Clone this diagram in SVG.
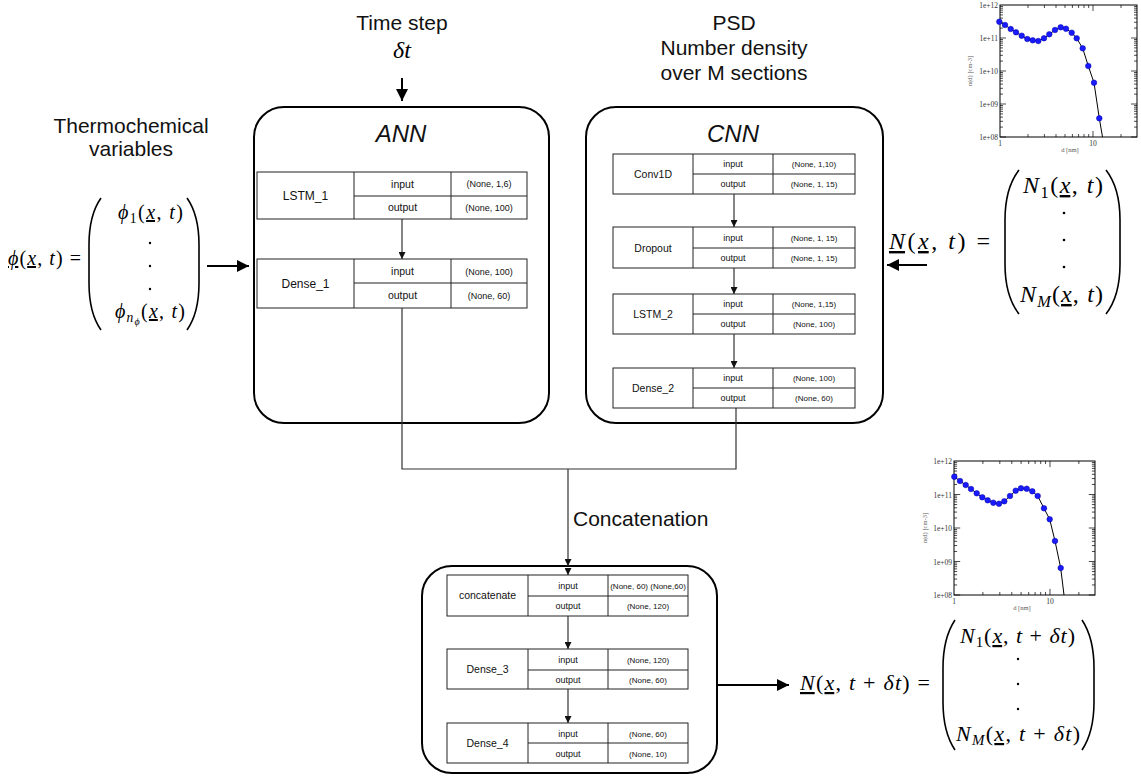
<svg xmlns="http://www.w3.org/2000/svg" xmlns:xlink="http://www.w3.org/1999/xlink" width="1141" height="776" viewBox="0 0 1141 776">
<style>
.bx{fill:none;stroke:#000;stroke-width:2}
.tb{fill:#fff;stroke:#222;stroke-width:1}
.tl{fill:none;stroke:#222;stroke-width:1}
.s{font-family:"Liberation Sans",Arial,sans-serif;fill:#111}
.lbl{font-size:21px;text-anchor:middle}
.ttl{font-size:24px;font-style:italic;text-anchor:middle}
.n1{font-size:12px;text-anchor:middle}
.io1{font-size:10.5px;text-anchor:middle}
.v1{font-size:9px;text-anchor:middle}
.n2{font-size:10.5px;text-anchor:middle}
.io2{font-size:9px;text-anchor:middle}
.v2{font-size:8px;text-anchor:middle}
.m{font-family:"Liberation Serif","DejaVu Serif","Times New Roman",serif;fill:#000}
.m20{font-size:20px}
.m22{font-size:22px}
.m24{font-size:24px}
.i{font-style:italic}
.u{text-decoration:underline}
.sb{font-size:0.68em}
.sb2{font-size:0.5em}
.par{fill:none;stroke:#000;stroke-width:1.6}
.con{fill:none;stroke:#333;stroke-width:1.2}
.thk{fill:none;stroke:#000;stroke-width:2}
.pf{fill:none;stroke:#000;stroke-width:1}
.pt{font-family:"Liberation Serif","Times New Roman",serif;font-size:7.5px;fill:#333}
.ax{font-family:"Liberation Serif","Times New Roman",serif;font-size:6.5px;fill:#555}
.tk{fill:none;stroke:#000;stroke-width:0.7}
.dot{fill:#1a1aff;stroke:#0000a0;stroke-width:0.5}
.cv{fill:none;stroke:#000;stroke-width:1}
</style>
<defs>
<marker id="ah" viewBox="0 0 10 10" refX="10" refY="5" markerWidth="7" markerHeight="7" markerUnits="userSpaceOnUse" orient="auto"><path d="M0 0L10 5L0 10z" fill="#111"/></marker>
<marker id="ahb" viewBox="0 0 10 10" refX="10" refY="5" markerWidth="12" markerHeight="12" markerUnits="userSpaceOnUse" orient="auto"><path d="M0 0L10 5L0 10z" fill="#000"/></marker>
<path id="yt" class="tk" d="M0 0h6M0 -9.9h3M0 -15.7h3M0 -19.9h3M0 -23.1h3M0 -25.7h3M0 -27.9h3M0 -29.8h3M0 -31.5h3"/>
<path id="xt" class="tk" d="M28 0v-3M44.4 0v-3M56 0v-3M65 0v-3M72.4 0v-3M78.6 0v-3M84 0v-3M88.7 0v-3M93 0v-6M121 0v-3"/>
</defs>

<g id="timestep">
<text class="s lbl" x="402" y="30">Time step</text>
<text class="m m24" x="402" y="58" text-anchor="middle"><tspan class="i">δt</tspan></text>
</g>
<g id="psd">
<text class="s lbl" x="734" y="30">PSD</text>
<text class="s lbl" x="734" y="55">Number density</text>
<text class="s lbl" x="734" y="80">over M sections</text>
</g>
<g id="thermo">
<text class="s lbl" x="131" y="133">Thermochemical</text>
<text class="s lbl" x="131" y="156">variables</text>
</g>

<g id="ann">
<rect class="bx" x="254" y="107" width="295" height="316" rx="30"/>
<text class="s ttl" x="401" y="142">ANN</text>
<g id="lstm1">
<rect class="tb" x="257" y="172" width="270" height="47"/>
<path class="tl" d="M354 172V219M451 172V219M354 196H527"/>
<text class="s n1" x="305.5" y="200">LSTM_1</text>
<text class="s io1" x="402.5" y="188">input</text>
<text class="s io1" x="402.5" y="211">output</text>
<text class="s v1" x="489" y="187">(None, 1,6)</text>
<text class="s v1" x="489" y="211">(None, 100)</text>
</g>
<g id="dense1">
<rect class="tb" x="257" y="259" width="270" height="49"/>
<path class="tl" d="M354 259V308M451 259V308M354 283H527"/>
<text class="s n1" x="305.5" y="288">Dense_1</text>
<text class="s io1" x="402.5" y="275">input</text>
<text class="s io1" x="402.5" y="299">output</text>
<text class="s v1" x="489" y="275">(None, 100)</text>
<text class="s v1" x="489" y="299">(None, 60)</text>
</g>
</g>

<g id="cnn">
<rect class="bx" x="586" y="107" width="297" height="316" rx="30"/>
<text class="s ttl" x="733" y="142">CNN</text>
<g id="conv1d">
<rect class="tb" x="613" y="154" width="242" height="40"/>
<path class="tl" d="M693 154V194M773 154V194M693 174H855"/>
<text class="s n2" x="653" y="178">Conv1D</text>
<text class="s io2" x="733" y="167">input</text>
<text class="s io2" x="733" y="187">output</text>
<text class="s v2" x="814" y="167">(None, 1,10)</text>
<text class="s v2" x="814" y="187">(None, 1, 15)</text>
</g>
<g id="dropout">
<rect class="tb" x="613" y="227" width="242" height="41"/>
<path class="tl" d="M693 227V268M773 227V268M693 248H855"/>
<text class="s n2" x="653" y="252">Dropout</text>
<text class="s io2" x="733" y="241">input</text>
<text class="s io2" x="733" y="261">output</text>
<text class="s v2" x="814" y="241">(None, 1, 15)</text>
<text class="s v2" x="814" y="261">(None, 1, 15)</text>
</g>
<g id="lstm2">
<rect class="tb" x="613" y="294" width="242" height="40"/>
<path class="tl" d="M693 294V334M773 294V334M693 314H855"/>
<text class="s n2" x="653" y="318">LSTM_2</text>
<text class="s io2" x="733" y="307">input</text>
<text class="s io2" x="733" y="327">output</text>
<text class="s v2" x="814" y="307">(None, 1,15)</text>
<text class="s v2" x="814" y="327">(None, 100)</text>
</g>
<g id="dense2">
<rect class="tb" x="613" y="368" width="242" height="40"/>
<path class="tl" d="M693 368V408M773 368V408M693 388H855"/>
<text class="s n2" x="653" y="392">Dense_2</text>
<text class="s io2" x="733" y="381">input</text>
<text class="s io2" x="733" y="401">output</text>
<text class="s v2" x="814" y="381">(None, 100)</text>
<text class="s v2" x="814" y="401">(None, 60)</text>
</g>
</g>

<g id="merged">
<rect class="bx" x="422" y="566" width="295" height="207" rx="30"/>
<g id="concat">
<rect class="tb" x="447" y="575" width="241" height="41"/>
<path class="tl" d="M528 575V616M608 575V616M528 596H688"/>
<text class="s n2" x="487.5" y="599">concatenate</text>
<text class="s io2" x="568" y="589">input</text>
<text class="s io2" x="568" y="609">output</text>
<text class="s v2" x="648" y="589">(None, 60) (None,60)</text>
<text class="s v2" x="648" y="609">(None, 120)</text>
</g>
<g id="dense3">
<rect class="tb" x="447" y="649" width="241" height="40"/>
<path class="tl" d="M528 649V689M608 649V689M528 670H688"/>
<text class="s n2" x="487.5" y="673">Dense_3</text>
<text class="s io2" x="568" y="663">input</text>
<text class="s io2" x="568" y="683">output</text>
<text class="s v2" x="648" y="663">(None, 120)</text>
<text class="s v2" x="648" y="683">(None, 60)</text>
</g>
<g id="dense4">
<rect class="tb" x="447" y="723" width="241" height="40"/>
<path class="tl" d="M528 723V763M608 723V763M528 743H688"/>
<text class="s n2" x="487.5" y="747">Dense_4</text>
<text class="s io2" x="568" y="737">input</text>
<text class="s io2" x="568" y="757">output</text>
<text class="s v2" x="648" y="737">(None, 60)</text>
<text class="s v2" x="648" y="757">(None, 10)</text>
</g>
</g>

<g id="connectors">
<path class="con" d="M402 219V259" marker-end="url(#ah)"/>
<path class="con" d="M734 194V227" marker-end="url(#ah)"/>
<path class="con" d="M734 268V294" marker-end="url(#ah)"/>
<path class="con" d="M734 334V368" marker-end="url(#ah)"/>
<path class="con" d="M402 308V469H736V408"/>
<path class="con" d="M568 469V566" marker-end="url(#ah)"/>
<path class="con" d="M568 568V575" marker-end="url(#ah)"/>
<path class="con" d="M568 616V649" marker-end="url(#ah)"/>
<path class="con" d="M568 689V723" marker-end="url(#ah)"/>
<path class="thk" d="M402 78V101" marker-end="url(#ahb)"/>
<path class="thk" d="M207 266H249" marker-end="url(#ahb)"/>
<path class="thk" d="M927 265H887" marker-end="url(#ahb)"/>
<path class="thk" d="M717 685H789" marker-end="url(#ahb)"/>
<text class="s" x="573" y="526" font-size="21">Concatenation</text>
</g>

<g id="phi-eq">
<text class="m m20" x="8" y="265" textLength="73" lengthAdjust="spacing"><tspan class="i u">ϕ</tspan>(<tspan class="i u">x</tspan>, <tspan class="i">t</tspan>) =</text>
<path class="par" d="M101 198Q89 215 89 245V283Q89 313 101 330"/>
<path class="par" d="M187 198Q199 215 199 245V283Q199 313 187 330"/>
<text class="m m20" x="118" y="219" textLength="65" lengthAdjust="spacing"><tspan class="i">ϕ</tspan><tspan class="sb" dy="4">1</tspan><tspan dy="-4">(</tspan><tspan class="i u">x</tspan>, <tspan class="i">t</tspan>)</text>
<circle cx="150" cy="243" r="1.2"/>
<circle cx="150" cy="266" r="1.2"/>
<circle cx="150" cy="289" r="1.2"/>
<text class="m m20" x="115" y="318" textLength="70" lengthAdjust="spacing"><tspan class="i">ϕ</tspan><tspan class="sb i" dy="4">n</tspan><tspan class="sb2 i" dy="3">ϕ</tspan><tspan dy="-7">(</tspan><tspan class="i u">x</tspan>, <tspan class="i">t</tspan>)</text>
</g>

<g id="n-eq">
<text class="m m24" x="889" y="249" textLength="101" lengthAdjust="spacing"><tspan class="i u">N</tspan>(<tspan class="i u">x</tspan>, <tspan class="i">t</tspan>) =</text>
<path class="par" d="M1019 170Q1005 188 1005 220V264Q1005 296 1019 314"/>
<path class="par" d="M1106 170Q1120 188 1120 220V264Q1120 296 1106 314"/>
<text class="m m24" x="1023" y="193" textLength="80" lengthAdjust="spacing"><tspan class="i">N</tspan><tspan class="sb" dy="5">1</tspan><tspan dy="-5">(</tspan><tspan class="i u">x</tspan>, <tspan class="i">t</tspan>)</text>
<circle cx="1064" cy="213" r="1.3"/>
<circle cx="1064" cy="240" r="1.3"/>
<circle cx="1064" cy="267" r="1.3"/>
<text class="m m24" x="1020" y="302" textLength="83" lengthAdjust="spacing"><tspan class="i">N</tspan><tspan class="sb i" dy="5">M</tspan><tspan dy="-5">(</tspan><tspan class="i u">x</tspan>, <tspan class="i">t</tspan>)</text>
</g>

<g id="n-next-eq">
<text class="m m22" x="800" y="690" textLength="130" lengthAdjust="spacing"><tspan class="i u">N</tspan>(<tspan class="i u">x</tspan>, <tspan class="i">t</tspan> + <tspan class="i">δt</tspan>) =</text>
<path class="par" d="M955 620Q943 638 943 668V702Q943 732 955 750"/>
<path class="par" d="M1082 620Q1094 638 1094 668V702Q1094 732 1082 750"/>
<text class="m m22" x="960" y="643" textLength="115" lengthAdjust="spacing"><tspan class="i">N</tspan><tspan class="sb" dy="4">1</tspan><tspan dy="-4">(</tspan><tspan class="i u">x</tspan>, <tspan class="i">t</tspan> + <tspan class="i">δt</tspan>)</text>
<circle cx="1018" cy="659" r="1.2"/>
<circle cx="1018" cy="684" r="1.2"/>
<circle cx="1018" cy="709" r="1.2"/>
<text class="m m22" x="956" y="741" textLength="124" lengthAdjust="spacing"><tspan class="i">N</tspan><tspan class="sb i" dy="4">M</tspan><tspan dy="-4">(</tspan><tspan class="i u">x</tspan>, <tspan class="i">t</tspan> + <tspan class="i">δt</tspan>)</text>
</g>

<g id="plot-top">
<rect class="pf" x="1000" y="5" width="137" height="132" fill="#fff"/>
<use href="#yt" x="1000" y="137"/><use href="#yt" x="1000" y="104"/><use href="#yt" x="1000" y="71"/><use href="#yt" x="1000" y="38"/>
<use href="#yt" transform="translate(1137,137) scale(-1,1)"/><use href="#yt" transform="translate(1137,104) scale(-1,1)"/><use href="#yt" transform="translate(1137,71) scale(-1,1)"/><use href="#yt" transform="translate(1137,38) scale(-1,1)"/>
<use href="#xt" x="1000" y="137"/><use href="#xt" transform="translate(1000,5) scale(1,-1)"/>
<text class="pt" x="998" y="8" text-anchor="end">1e+12</text>
<text class="pt" x="998" y="41" text-anchor="end">1e+11</text>
<text class="pt" x="998" y="74" text-anchor="end">1e+10</text>
<text class="pt" x="998" y="107" text-anchor="end">1e+09</text>
<text class="pt" x="998" y="140" text-anchor="end">1e+08</text>
<text class="pt" x="1000" y="146" text-anchor="middle">1</text>
<text class="pt" x="1093" y="146" text-anchor="middle">10</text>
<text class="ax" x="1070" y="152" text-anchor="middle">d [nm]</text>
<text class="ax" transform="translate(972,71) rotate(-90)" text-anchor="middle">n(d) [cm-3]</text>
<polyline class="cv" points="999.3,21.7 1005,25 1010.7,29 1016,32.3 1021.7,35.7 1027.3,39 1032.7,40.3 1038.3,41 1044,38.3 1049.3,34.3 1055,30 1060.7,27.3 1066,28.7 1071.7,32.7 1076.7,38.3 1082.7,48.3 1088.3,66 1094,82.7 1099.3,118.3 1102.5,137"/>
<g class="dot">
<circle cx="999.3" cy="21.7" r="2.8"/><circle cx="1005" cy="25" r="2.8"/><circle cx="1010.7" cy="29" r="2.8"/><circle cx="1016" cy="32.3" r="2.8"/><circle cx="1021.7" cy="35.7" r="2.8"/><circle cx="1027.3" cy="39" r="2.8"/><circle cx="1032.7" cy="40.3" r="2.8"/><circle cx="1038.3" cy="41" r="2.8"/><circle cx="1044" cy="38.3" r="2.8"/><circle cx="1049.3" cy="34.3" r="2.8"/><circle cx="1055" cy="30" r="2.8"/><circle cx="1060.7" cy="27.3" r="2.8"/><circle cx="1066" cy="28.7" r="2.8"/><circle cx="1071.7" cy="32.7" r="2.8"/><circle cx="1076.7" cy="38.3" r="2.8"/><circle cx="1082.7" cy="48.3" r="2.8"/><circle cx="1088.3" cy="66" r="2.8"/><circle cx="1094" cy="82.7" r="2.8"/><circle cx="1099.3" cy="118.3" r="2.8"/>
</g>
</g>

<g id="plot-bottom">
<rect class="pf" x="954" y="461" width="141" height="134" fill="#fff"/>
<g transform="translate(954,0) scale(1.032,1.015)">
<use href="#yt" x="0" y="586.2"/><use href="#yt" x="0" y="553.2"/><use href="#yt" x="0" y="520.2"/><use href="#yt" x="0" y="487.2"/>
<use href="#xt" x="0" y="586.2"/><use href="#xt" transform="translate(0,454.2) scale(1,-1)"/>
</g>
<g transform="translate(1095,0) scale(-1.032,1.015)">
<use href="#yt" x="0" y="586.2"/><use href="#yt" x="0" y="553.2"/><use href="#yt" x="0" y="520.2"/><use href="#yt" x="0" y="487.2"/>
</g>
<text class="pt" x="952" y="464" text-anchor="end">1e+12</text>
<text class="pt" x="952" y="497.5" text-anchor="end">1e+11</text>
<text class="pt" x="952" y="531" text-anchor="end">1e+10</text>
<text class="pt" x="952" y="564.5" text-anchor="end">1e+09</text>
<text class="pt" x="952" y="598" text-anchor="end">1e+08</text>
<text class="pt" x="954" y="604" text-anchor="middle">1</text>
<text class="pt" x="1050" y="604" text-anchor="middle">10</text>
<text class="ax" x="1022" y="610" text-anchor="middle">d [nm]</text>
<text class="ax" transform="translate(927,528) rotate(-90)" text-anchor="middle">n(d) [cm-3]</text>
<polyline class="cv" points="954.3,476.7 960,481 965.7,485 971,489 976.7,493.3 982.3,497.3 987.7,500.3 993.3,502.7 999,503.7 1004.3,501.3 1010,496 1015.7,490.7 1021,488.3 1026.7,488.7 1032.3,491.3 1037.7,496 1044,508.3 1049.7,519.3 1055,541 1060.7,568 1064,595"/>
<g class="dot">
<circle cx="954.3" cy="476.7" r="2.8"/><circle cx="960" cy="481" r="2.8"/><circle cx="965.7" cy="485" r="2.8"/><circle cx="971" cy="489" r="2.8"/><circle cx="976.7" cy="493.3" r="2.8"/><circle cx="982.3" cy="497.3" r="2.8"/><circle cx="987.7" cy="500.3" r="2.8"/><circle cx="993.3" cy="502.7" r="2.8"/><circle cx="999" cy="503.7" r="2.8"/><circle cx="1004.3" cy="501.3" r="2.8"/><circle cx="1010" cy="496" r="2.8"/><circle cx="1015.7" cy="490.7" r="2.8"/><circle cx="1021" cy="488.3" r="2.8"/><circle cx="1026.7" cy="488.7" r="2.8"/><circle cx="1032.3" cy="491.3" r="2.8"/><circle cx="1037.7" cy="496" r="2.8"/><circle cx="1044" cy="508.3" r="2.8"/><circle cx="1049.7" cy="519.3" r="2.8"/><circle cx="1055" cy="541" r="2.8"/><circle cx="1060.7" cy="568" r="2.8"/>
</g>
</g>
</svg>
